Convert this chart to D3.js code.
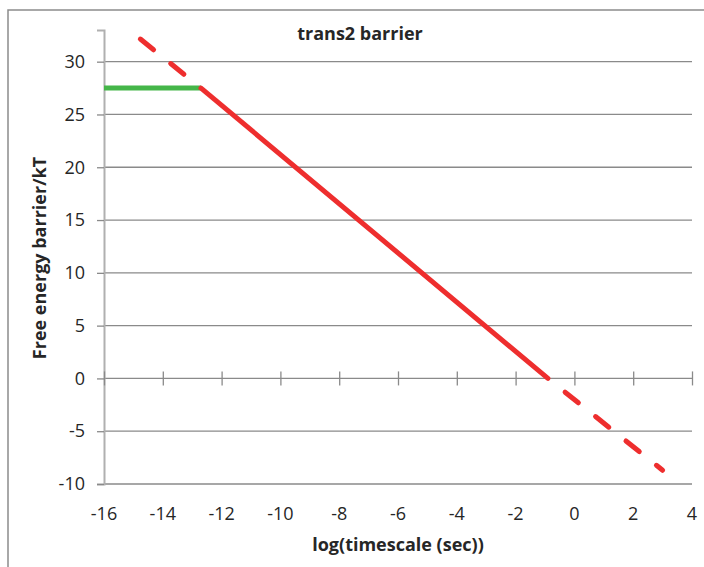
<!DOCTYPE html>
<html>
<head>
<meta charset="utf-8">
<script src="https://cdn.jsdelivr.net/npm/d3@7"></script>
<style>
  body { margin: 0; background: #fff; }
  text { font-family: "Open Sans", Lato, sans-serif; fill: #262626; }
</style>
</head>
<body>
<svg width="704" height="567"></svg>
<script>
// values
const xTicks = [-16, -14, -12, -10, -8, -6, -4, -2, 0, 2, 4];
const yTicks = [-10, -5, 0, 5, 10, 15, 20, 25, 30];

// green plateau
const plateauX = [-16, -12.7];
const plateauY = [27.5, 27.5];

// solid red fit, log(timescale) vs barrier
const fitX = [-12.7, -0.9];
const fitY = [27.5, 0];

// dashed extrapolations (drawn from the junction outward)
const upperX = [-12.7, -15.1];
const upperY = [27.5, 32.9];
const lowerX = [-0.9, 3.0];
const lowerY = [0, -8.7];

const svg = d3.select("svg");
const width = +svg.attr("width");
const height = +svg.attr("height");

const margin = {top: 30, right: 12, bottom: 83, left: 104};
const innerWidth = width - margin.left - margin.right;
const innerHeight = height - margin.top - margin.bottom;

// outer chart frame
svg.append("path")
  .attr("d", `M8,${height} V10 H${width}`)
  .attr("fill", "none")
  .attr("stroke", "#8c8c8c")
  .attr("stroke-width", 1.5);

const xScale = d3.scaleLinear()
  .domain([-16, 4])
  .range([0, innerWidth]);

const yScale = d3.scaleLinear()
  .domain([-10, 33])
  .range([innerHeight, 0]);

const g = svg.append("g")
  .attr("transform", `translate(${margin.left}, ${margin.top})`);

// horizontal gridlines
g.append("g")
  .selectAll("line").data(yTicks)
  .enter().append("line")
    .attr("x1", 0)
    .attr("x2", innerWidth)
    .attr("y1", d => yScale(d))
    .attr("y2", d => yScale(d))
    .attr("stroke", "#8a8a8a")
    .attr("stroke-width", 1.3);

// y axis
const yAxis = g.append("g")
  .call(d3.axisLeft(yScale).tickValues(yTicks).tickSize(7).tickPadding(12).tickFormat(d => d));
yAxis.select(".domain").attr("stroke", "#b0b0b0").attr("stroke-width", 2);
yAxis.selectAll(".tick line").attr("stroke", "#8a8a8a").attr("stroke-width", 1.3);
yAxis.selectAll(".tick text")
  .attr("font-size", 18)
  .style("font-family", "'Open Sans', Lato, sans-serif")
  .attr("fill", "#262626");

// x axis sits on y = 0, ticks cross the line
const xAxis = g.append("g")
  .attr("transform", `translate(0, ${yScale(0)})`)
  .call(d3.axisBottom(xScale).tickValues(xTicks).tickSize(0).tickFormat(""));
xAxis.select(".domain").remove();
xAxis.selectAll(".tick line")
  .attr("y1", -7)
  .attr("y2", 7)
  .attr("stroke", "#8a8a8a")
  .attr("stroke-width", 1.3);

// x tick labels at the bottom of the plot
g.append("g")
  .selectAll("text").data(xTicks)
  .enter().append("text")
    .attr("x", d => xScale(d))
    .attr("y", innerHeight + 36)
    .attr("text-anchor", "middle")
    .attr("font-size", 18)
    .text(d => d);

const line = d3.line()
  .x(d => xScale(d[0]))
  .y(d => yScale(d[1]));

const red = "#ee2e2e";

g.append("path")
  .datum(d3.zip(plateauX, plateauY))
  .attr("d", line)
  .attr("fill", "none")
  .attr("stroke", "#45b649")
  .attr("stroke-width", 5);

g.append("path")
  .datum(d3.zip(fitX, fitY))
  .attr("d", line)
  .attr("fill", "none")
  .attr("stroke", red)
  .attr("stroke-width", 5)
  .attr("stroke-linecap", "round");

[[upperX, upperY], [lowerX, lowerY]].forEach(([xs, ys]) => {
  g.append("path")
    .datum(d3.zip(xs, ys))
    .attr("d", line)
    .attr("fill", "none")
    .attr("stroke", red)
    .attr("stroke-width", 5)
    .attr("stroke-linecap", "round")
    .attr("stroke-dasharray", "17,22")
    .attr("stroke-dashoffset", 17);
});

// titles
svg.append("text")
  .attr("x", 360)
  .attr("y", 40)
  .attr("text-anchor", "middle")
  .attr("font-size", 18)
  .attr("font-weight", "bold")
  .text("trans2 barrier");

svg.append("text")
  .attr("x", 398)
  .attr("y", 551)
  .attr("text-anchor", "middle")
  .attr("font-size", 18)
  .attr("font-weight", "bold")
  .text("log(timescale (sec))");

svg.append("text")
  .attr("transform", "translate(46, 258) rotate(-90)")
  .attr("text-anchor", "middle")
  .attr("font-size", 18)
  .attr("font-weight", "bold")
  .text("Free energy barrier/kT");
</script>
</body>
</html>
